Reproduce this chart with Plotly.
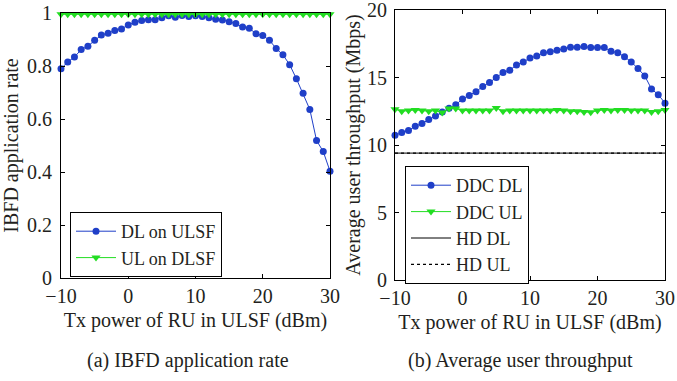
import plotly.graph_objects as go

# x values (Tx power of RU in ULSF, dBm)
tx_power = list(range(-10, 31))

# (a) IBFD application rate
dl_on_ulsf = [0.79, 0.815, 0.834, 0.862, 0.875, 0.897, 0.917, 0.924, 0.934, 0.940,
              0.955, 0.965, 0.972, 0.975, 0.975, 0.982, 0.990, 0.984, 0.991, 0.987,
              0.990, 0.987, 0.982, 0.976, 0.974, 0.967, 0.960, 0.947, 0.942, 0.922,
              0.915, 0.897, 0.866, 0.842, 0.805, 0.752, 0.697, 0.636, 0.519, 0.477,
              0.403]
ul_on_dlsf = [0.995] * 41

# (b) Average user throughput (Mbps)
ddc_dl = [10.73, 10.93, 11.07, 11.39, 11.59, 11.88, 12.15, 12.44, 12.73, 12.98,
          13.41, 13.66, 13.95, 14.34, 14.63, 15.00, 15.37, 15.54, 15.93, 16.15,
          16.44, 16.59, 16.83, 16.90, 17.02, 17.12, 17.24, 17.24, 17.29, 17.22,
          17.22, 17.22, 16.95, 16.83, 16.54, 16.15, 15.66, 15.12, 14.15, 13.73,
          13.10]
ddc_ul = [12.65, 12.50, 12.55, 12.60, 12.55, 12.50, 12.55, 12.40, 12.70, 12.70,
          12.55, 12.55, 12.55, 12.55, 12.55, 12.75, 12.50, 12.55, 12.55, 12.55,
          12.55, 12.55, 12.55, 12.55, 12.60, 12.55, 12.50, 12.50, 12.45, 12.42,
          12.55, 12.60, 12.55, 12.60, 12.60, 12.55, 12.55, 12.55, 12.45, 12.50,
          12.60]
hd_dl = [9.4] * 41
hd_ul = [9.4] * 41

FONT = "Liberation Serif, Times New Roman, serif"
FS = 20
LFS = 18
TXT = "#231f20"
BLUE = "#1f3fc8"
GREEN = "#22dd22"

fig = go.Figure()

fig.add_trace(go.Scatter(x=tx_power, y=dl_on_ulsf, name="DL on ULSF", mode="lines+markers",
                         line=dict(color=BLUE, width=1), marker=dict(symbol="circle", size=7, color=BLUE),
                         xaxis="x", yaxis="y", legend="legend", cliponaxis=False))
fig.add_trace(go.Scatter(x=tx_power, y=ul_on_dlsf, name="UL on DLSF", mode="lines+markers",
                         line=dict(color=GREEN, width=1), marker=dict(symbol="triangle-down", size=8, color=GREEN),
                         xaxis="x", yaxis="y", legend="legend", cliponaxis=False))

fig.add_trace(go.Scatter(x=tx_power, y=ddc_dl, name="DDC DL", mode="lines+markers",
                         line=dict(color=BLUE, width=1), marker=dict(symbol="circle", size=7, color=BLUE),
                         xaxis="x2", yaxis="y2", legend="legend2", cliponaxis=False))
fig.add_trace(go.Scatter(x=tx_power, y=ddc_ul, name="DDC UL", mode="lines+markers",
                         line=dict(color=GREEN, width=1), marker=dict(symbol="triangle-down", size=8, color=GREEN),
                         xaxis="x2", yaxis="y2", legend="legend2", cliponaxis=False))
fig.add_trace(go.Scatter(x=tx_power, y=hd_dl, name="HD DL", mode="lines",
                         line=dict(color="black", width=1),
                         xaxis="x2", yaxis="y2", legend="legend2"))
fig.add_trace(go.Scatter(x=tx_power, y=hd_ul, name="HD UL", mode="lines",
                         line=dict(color="black", width=1.2, dash="dot"),
                         xaxis="x2", yaxis="y2", legend="legend2"))

W, H = 677, 381

def px(x):
    return x / W

def py(y):
    return 1 - y / H

axis_common = dict(showline=True, linecolor="black", linewidth=1, mirror="allticks",
                   ticks="inside", ticklen=4, tickcolor="black", showgrid=False, zeroline=False,
                   automargin=False, ticklabeloverflow="allow",
                   tickfont=dict(family=FONT, size=FS, color=TXT),
                   title_font=dict(family=FONT, size=FS, color=TXT))

fig.update_layout(
    width=W, height=H,
    margin=dict(l=0, r=0, t=0, b=0),
    paper_bgcolor="white", plot_bgcolor="white",
    font=dict(family=FONT, size=FS, color=TXT),
    xaxis=dict(domain=[px(61), px(330)], range=[-10, 30], tickvals=[-10, 0, 10, 20, 30],
               ticktext=["\u221210", "0", "10", "20", "30"],
               title=dict(text="Tx power of RU in ULSF (dBm)", standoff=6), anchor="y", **axis_common),
    yaxis=dict(domain=[py(278), py(13)], range=[0, 1], tickvals=[0, 0.2, 0.4, 0.6, 0.8, 1],
               ticktext=["0", "0.2", "0.4", "0.6", "0.8", "1"], ticklabelstandoff=4,
               title=dict(text="IBFD application rate", standoff=8), anchor="x", **axis_common),
    xaxis2=dict(domain=[px(395), px(665)], range=[-10, 30], tickvals=[-10, 0, 10, 20, 30],
                ticktext=["\u221210", "0", "10", "20", "30"],
                title=dict(text="Tx power of RU in ULSF (dBm)", standoff=6), anchor="y2", **axis_common),
    yaxis2=dict(domain=[py(280), py(10)], range=[0, 20], tickvals=[0, 5, 10, 15, 20],
                ticklabelstandoff=3,
                title=dict(text="Average user throughput (Mbps)", standoff=1), anchor="x2", **axis_common),
    legend=dict(x=px(70), y=py(212), xanchor="left", yanchor="top",
                bordercolor="black", borderwidth=1, bgcolor="white",
                font=dict(family=FONT, size=LFS, color=TXT), tracegroupgap=0, itemwidth=40),
    legend2=dict(x=px(405), y=py(166), xanchor="left", yanchor="top",
                 bordercolor="black", borderwidth=1, bgcolor="white",
                 font=dict(family=FONT, size=LFS, color=TXT), tracegroupgap=0, itemwidth=40),
    showlegend=True,
    annotations=[
        dict(text="(a) IBFD application rate", x=px(188), y=py(360), xref="paper", yref="paper",
             xanchor="center", yanchor="middle",
             showarrow=False, font=dict(family=FONT, size=FS, color=TXT)),
        dict(text="(b) Average user throughput", x=px(520), y=py(360), xref="paper", yref="paper",
             xanchor="center", yanchor="middle",
             showarrow=False, font=dict(family=FONT, size=FS, color=TXT)),
    ],
)

fig.write_html("out.html", config={"displayModeBar": False},
               post_script="document.body.style.margin='0';document.body.style.padding='0';"
                           "document.documentElement.style.overflow='hidden';")
